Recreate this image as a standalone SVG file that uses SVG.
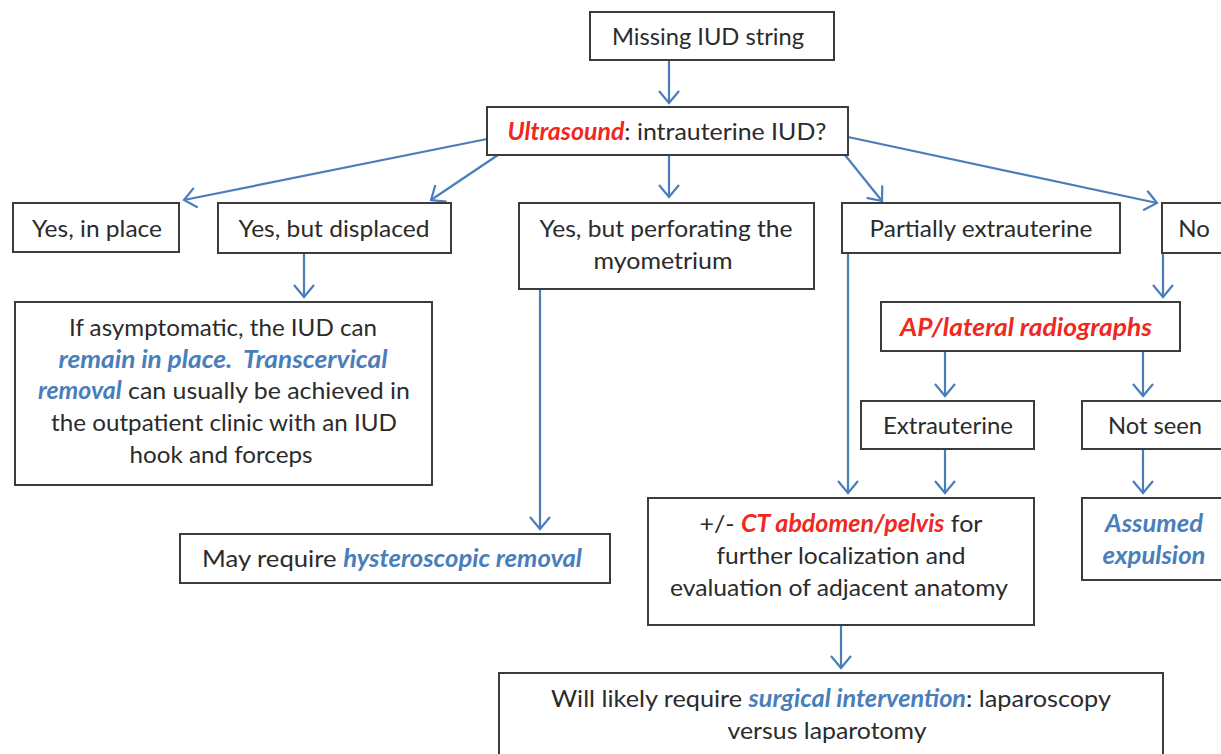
<svg xmlns="http://www.w3.org/2000/svg" width="1221" height="754" viewBox="0 0 1221 754">
<defs>
<style>
.box{fill:#fff;stroke:#3c3c3c;stroke-width:2}
.t{font-family:Lato,"Open Sans",sans-serif;font-size:24px;fill:#2b2b2b;text-anchor:middle}
.r{fill:#f0281e;font-weight:bold;font-style:italic}
.b{fill:#4a7ebb;font-weight:bold;font-style:italic}
.c{fill:none;stroke:#4a7ebb;stroke-width:2.2;marker-end:url(#ah)}
</style>
<marker id="ah" viewBox="0 0 16 22" refX="14" refY="11" markerWidth="16" markerHeight="22" orient="auto" markerUnits="userSpaceOnUse">
<path d="M2,1 L14,11 L2,21" fill="none" stroke="#4a7ebb" stroke-width="2.2"/>
</marker>
</defs>
<rect width="1221" height="754" fill="#fff"/>
<g id="connectors">
<line class="c" x1="669" y1="60" x2="669" y2="103"/>
<line class="c" x1="487" y1="139" x2="184" y2="200"/>
<line class="c" x1="498" y1="155" x2="431" y2="200"/>
<line class="c" x1="669" y1="155" x2="669" y2="197"/>
<line class="c" x1="845" y1="155" x2="882" y2="201"/>
<line class="c" x1="848" y1="137" x2="1157" y2="203"/>
<line class="c" x1="304" y1="253" x2="304" y2="297"/>
<line class="c" x1="540" y1="289" x2="540" y2="529"/>
<line class="c" x1="848" y1="253" x2="848" y2="493"/>
<line class="c" x1="1163" y1="253" x2="1163" y2="297"/>
<line class="c" x1="945" y1="351" x2="945" y2="396"/>
<line class="c" x1="1143" y1="351" x2="1143" y2="396"/>
<line class="c" x1="945" y1="449" x2="945" y2="493"/>
<line class="c" x1="1143" y1="449" x2="1143" y2="493"/>
<line class="c" x1="841" y1="625" x2="841" y2="668"/>
</g>
<g id="missing"><rect class="box" x="590" y="12" width="244" height="48"/><text class="t" x="708" y="45" textLength="192" lengthAdjust="spacingAndGlyphs">Missing IUD string</text></g>
<g id="ultrasound"><rect class="box" x="487" y="107" width="361" height="48"/><text class="t" x="667" y="140" textLength="319" lengthAdjust="spacingAndGlyphs"><tspan class="r">Ultrasound</tspan>: intrauterine IUD?</text></g>
<g id="yes-in-place"><rect class="box" x="13" y="203" width="166" height="49"/><text class="t" x="97" y="237" textLength="130" lengthAdjust="spacingAndGlyphs">Yes, in place</text></g>
<g id="yes-displaced"><rect class="box" x="218" y="203" width="233" height="50"/><text class="t" x="334" y="237" textLength="191" lengthAdjust="spacingAndGlyphs">Yes, but displaced</text></g>
<g id="yes-perforating"><rect class="box" x="519" y="203" width="295" height="86"/><text class="t" x="666" y="237" textLength="253" lengthAdjust="spacingAndGlyphs">Yes, but perforating the</text><text class="t" x="663" y="269" textLength="139" lengthAdjust="spacingAndGlyphs">myometrium</text></g>
<g id="partial"><rect class="box" x="842" y="203" width="278" height="50"/><text class="t" x="981" y="237" textLength="223" lengthAdjust="spacingAndGlyphs">Partially extrauterine</text></g>
<g id="no"><rect class="box" x="1162" y="203" width="80" height="50"/><text class="t" x="1194" y="237">No</text></g>
<g id="asymptomatic"><rect class="box" x="15" y="302" width="417" height="183"/>
<text class="t" x="223" y="336" textLength="308" lengthAdjust="spacingAndGlyphs">If asymptomatic, the IUD can</text>
<text class="t" x="223" y="368" textLength="329" lengthAdjust="spacingAndGlyphs"><tspan class="b">remain in place.&#160; Transcervical</tspan></text>
<text class="t" x="224" y="399" textLength="372" lengthAdjust="spacingAndGlyphs"><tspan class="b">removal</tspan> can usually be achieved in</text>
<text class="t" x="224" y="431" textLength="346" lengthAdjust="spacingAndGlyphs">the outpatient clinic with an IUD</text>
<text class="t" x="221" y="463" textLength="183" lengthAdjust="spacingAndGlyphs">hook and forceps</text></g>
<g id="may-require"><rect class="box" x="180" y="534" width="430" height="49"/><text class="t" x="392" y="567" textLength="380" lengthAdjust="spacingAndGlyphs">May require <tspan class="b">hysteroscopic removal</tspan></text></g>
<g id="ap-lateral"><rect class="box" x="881" y="302" width="299" height="49"/><text class="t" x="1026" y="336" textLength="252" lengthAdjust="spacingAndGlyphs"><tspan class="r">AP/lateral radiographs</tspan></text></g>
<g id="extrauterine"><rect class="box" x="861" y="401" width="173" height="48"/><text class="t" x="948" y="434" textLength="130" lengthAdjust="spacingAndGlyphs">Extrauterine</text></g>
<g id="not-seen"><rect class="box" x="1082" y="401" width="150" height="48"/><text class="t" x="1155" y="434" textLength="94" lengthAdjust="spacingAndGlyphs">Not seen</text></g>
<g id="ct"><rect class="box" x="648" y="498" width="386" height="127"/>
<text class="t" x="841" y="532" textLength="283" lengthAdjust="spacingAndGlyphs">+/- <tspan class="r">CT abdomen/pelvis</tspan> for</text>
<text class="t" x="841" y="564" textLength="249" lengthAdjust="spacingAndGlyphs">further localization and</text>
<text class="t" x="839" y="596" textLength="338" lengthAdjust="spacingAndGlyphs">evaluation of adjacent anatomy</text></g>
<g id="assumed"><rect class="box" x="1082" y="498" width="150" height="82"/>
<text class="t" x="1154" y="532" textLength="98" lengthAdjust="spacingAndGlyphs"><tspan class="b">Assumed</tspan></text>
<text class="t" x="1154" y="564" textLength="103" lengthAdjust="spacingAndGlyphs"><tspan class="b">expulsion</tspan></text></g>
<g id="will-require"><rect class="box" x="499" y="673" width="664" height="100"/>
<text class="t" x="831" y="707" textLength="560" lengthAdjust="spacingAndGlyphs">Will likely require <tspan class="b">surgical intervention</tspan>: laparoscopy</text>
<text class="t" x="827" y="739" textLength="199" lengthAdjust="spacingAndGlyphs">versus laparotomy</text></g>
</svg>
